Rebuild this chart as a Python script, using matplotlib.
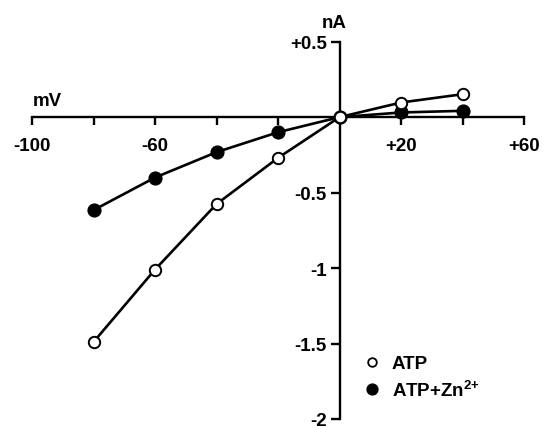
import matplotlib
matplotlib.use("Agg")
import matplotlib.pyplot as plt
from matplotlib.lines import Line2D

plt.rcParams['font.family'] = ['Liberation Sans', 'DejaVu Sans']
plt.rcParams['axes.unicode_minus'] = False
plt.rcParams['mathtext.default'] = 'regular'

voltage = [-80, -60, -40, -20, 0, 20, 40]
atp = [-1.49, -1.01, -0.576, -0.27, 0.0, 0.097, 0.152]
atp_zn = [-0.616, -0.40, -0.232, -0.10, 0.0, 0.031, 0.042]

xticks = [-100, -80, -60, -40, -20, 0, 20, 40, 60]
xticklabels = ['-100', '', '-60', '', '', '', '+20', '', '+60']
yticks = [0.5, -0.5, -1, -1.5, -2]
yticklabels = ['+0.5', '-0.5', '-1', '-1.5', '-2']

W, H = 545, 427
FS = 13.5
fig = plt.figure(figsize=(W / 100, H / 100), dpi=100)
ax = fig.add_axes([32 / W, 1 - 420 / H, (524 - 32) / W, (420 - 42.7) / H])
ax.set_xlim(-100, 60)
ax.set_ylim(-2, 0.5)

ax.plot(voltage, atp_zn, color='black', lw=1.9, marker='o', ms=9.2,
        mfc='black', mec='black', mew=1.0, zorder=3)
ax.plot(voltage, atp, color='black', lw=1.9, marker='o', ms=8.2,
        mfc='white', mec='black', mew=1.4, zorder=4)

for s in ['top', 'right']:
    ax.spines[s].set_visible(False)
ax.spines['left'].set_position(('data', 0))
ax.spines['bottom'].set_position(('data', 0))
ax.spines['left'].set_linewidth(1.7)
ax.spines['bottom'].set_linewidth(1.7)

ax.set_xticks(xticks)
ax.set_xticklabels(xticklabels, fontsize=FS, fontweight='bold')
ax.set_yticks(yticks)
ax.set_yticklabels(yticklabels, fontsize=FS, fontweight='bold')
ax.tick_params(axis='x', direction='out', length=5.5, width=1.7, pad=9)
ax.tick_params(axis='y', direction='out', length=6.2, width=1.7, pad=3)

fig.text(334 / W, 1 - 23.5 / H, 'nA', ha='center', va='center', fontsize=FS, fontweight='bold')
fig.text(47.5 / W, 1 - 101.5 / H, 'mV', ha='center', va='center', fontsize=FS, fontweight='bold')

handles = [
    Line2D([], [], ls='none', marker='o', ms=6.2, mfc='white', mec='black', mew=1.3),
    Line2D([], [], ls='none', marker='o', ms=7.8, mfc='black', mec='black', mew=1.0),
]
leg = fig.legend(handles, ['ATP', 'ATP+Zn$^{2{+}}$'], loc='upper left',
                 bbox_to_anchor=(355 / W, 1 - 347 / H), frameon=False,
                 handlelength=0.8, handletextpad=0.65, labelspacing=0.38,
                 borderpad=0, prop={'size': FS, 'weight': 'bold'})

fig.savefig('out.png', dpi=100)
